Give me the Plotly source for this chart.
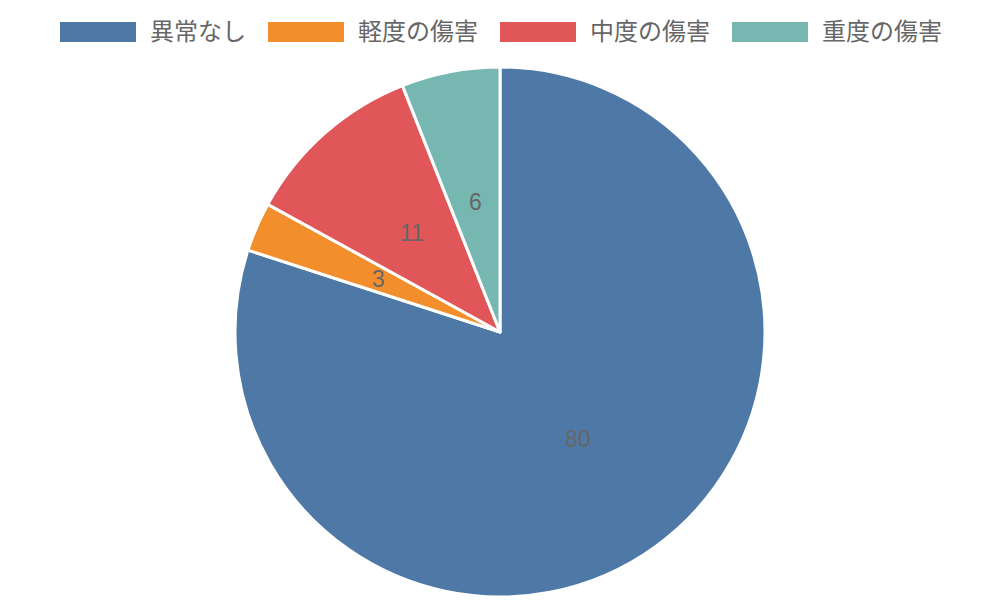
import math
import plotly.graph_objects as go

categories = ["異常なし", "軽度の傷害", "中度の傷害", "重度の傷害"]
values = [80, 3, 11, 6]
colors = ["#4e79a7", "#f28e2b", "#e15759", "#76b7b2"]

W, H = 1000, 600
OFF = 8  # page body margin
left, right = 0, 2 * OFF
top, plot_h = 67 - OFF, 530
bottom = H - top - plot_h
plot_w = W - left - right
font_family = "Liberation Sans, Noto Sans CJK JP, sans-serif"
text_color = "#666666"

fig = go.Figure(go.Pie(
    labels=categories,
    values=values,
    marker=dict(colors=colors, line=dict(color="white", width=3)),
    sort=False,
    direction="clockwise",
    rotation=0,
    textinfo="none",
    showlegend=False,
))


def px_to_paper(px, py):
    # px, py are window pixels
    fx, fy = px - OFF, py - OFF
    return (fx - left) / plot_w, (H - bottom - fy) / plot_h


# value labels halfway along the radius
cx, cy = 500, 67 + plot_h / 2
r = plot_h / 2
total = sum(values)
start = 0
for v in values:
    mid = (start + v / 2) / total * 2 * math.pi
    start += v
    x, y = px_to_paper(cx + 0.5 * r * math.sin(mid), cy - 0.5 * r * math.cos(mid))
    fig.add_annotation(x=x, y=y, xref="paper", yref="paper", text=str(v),
                       xanchor="center", yanchor="middle",
                       showarrow=False, font=dict(size=23, color=text_color))

# legend with wide swatches drawn by hand
box_w, box_h, pad, gap, fsize = 76, 20, 12, 24, 24
widths = [box_w + pad + len(c) * fsize for c in categories]
x0 = (W - sum(widths) - gap * (len(categories) - 1)) / 2
ly = 32
for cat, col, w in zip(categories, colors, widths):
    ax0, ay0 = px_to_paper(x0, ly - box_h / 2)
    ax1, ay1 = px_to_paper(x0 + box_w, ly + box_h / 2)
    fig.add_shape(type="rect", xref="paper", yref="paper", x0=ax0, x1=ax1, y0=ay1, y1=ay0,
                  fillcolor=col, line=dict(width=0))
    tx, ty = px_to_paper(x0 + box_w + pad, ly)
    fig.add_annotation(x=tx, y=ty, xref="paper", yref="paper", text=cat, showarrow=False,
                       xanchor="left", yanchor="middle", font=dict(size=24, color=text_color))
    x0 += w + gap

fig.update_layout(
    width=W, height=H,
    margin=dict(l=left, r=right, t=top, b=bottom),
    paper_bgcolor="white",
    font=dict(family=font_family, color=text_color),
)

fig.write_html("out.html")
